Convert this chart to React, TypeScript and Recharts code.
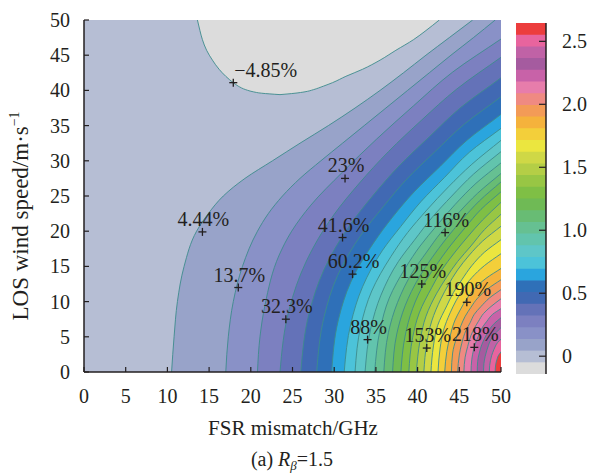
import React from 'react';
import { ComposedChart, Area, XAxis, YAxis, CartesianGrid, ReferenceDot } from 'recharts';

const FONT = '"Liberation Serif", "Times New Roman", Times, serif';
const INK = '#231f20';
const LINE = '#3d8b8c';

const xTicks = [0, 5, 10, 15, 20, 25, 30, 35, 40, 45, 50];
const yTicks = [0, 5, 10, 15, 20, 25, 30, 35, 40, 45, 50];
const barTicks = [0, 0.5, 1, 1.5, 2, 2.5];

// contour level boundaries (%), 30 bands
const levels = [-14.14, -4.85, 4.44, 13.73, 23.02, 32.31, 41.6, 50.89, 60.18, 69.47, 78.76, 88.05, 97.34, 106.63, 115.92, 125.21, 134.5, 143.79, 153.08, 162.37, 171.66, 180.95, 190.24, 199.53, 208.82, 218.11, 227.4, 236.69, 245.98, 255.27, 264.56];

const bandColors = ['#dcdcdc', '#b6bed4', '#98a3c9', '#8991c7', '#7c80c0', '#6472b8', '#4169b3', '#2f70b8', '#2aa5de', '#4cc3d9', '#5ec6c8', '#62c4ad', '#66c092', '#68bc74', '#6fba55', '#7fbf45', '#98c644', '#b4ce46', '#cfd846', '#ebe63f', '#f3cf3a', '#f5b23c', '#f39b57', '#ef8a82', '#e77dab', '#c862a8', '#a55b9f', '#c062a6', '#e8649e', '#ec3d3d'];

// contour lines: [wind speed, FSR mismatch]
const c1 = [[0, 10.5], [5, 10.8], [10, 11.2], [15, 12.0], [20, 13.5], [22.5, 14.9], [25, 16.7], [27.5, 19.3], [30, 22.6], [32.5, 25.9], [35, 29.3], [37.5, 32.5], [40, 35.5], [42.5, 38.3], [45, 41.0], [47.5, 43.8], [50, 46.6]];
const c2 = [[0, 17.0], [5, 17.3], [10, 17.9], [15, 19.0], [20, 20.8], [22.5, 22.1], [25, 23.8], [27.5, 25.9], [30, 28.4], [32.5, 31.0], [35, 33.6], [37.5, 36.2], [40, 38.8], [42.5, 41.4], [45, 44.0], [47.5, 46.7], [50, 49.3]];
const c3 = [[0, 20.8], [5, 21.1], [9.5, 21.7], [16.6, 23.4], [20, 24.9], [23.7, 27.2], [28.4, 31.0], [33.1, 35.1], [37.8, 39.5], [42.6, 44.2], [47.3, 50], [50, 53.3]];
const c4 = [[0, 23.5], [8.9, 24.6], [15.6, 26.6], [22.4, 30.0], [26.8, 33.0], [31.3, 36.5], [35.8, 40.5], [40.2, 44.7], [44.7, 50], [50, 56.3]];
const c5 = [[0, 26.0], [8.4, 27.0], [14.6, 28.8], [20.9, 31.9], [25.0, 34.6], [29.3, 37.8], [33.4, 41.4], [37.6, 45.2], [41.8, 50], [50, 58.6]];
const c6 = [[0, 27.9], [7.9, 28.8], [13.7, 30.4], [19.6, 33.3], [23.5, 35.9], [27.4, 38.7], [31.2, 42.0], [35.2, 45.6], [39.1, 50], [50, 60.6]];
const c7 = [[0, 29.7], [7.4, 30.5], [12.8, 32.0], [18.3, 34.7], [22.0, 37.0], [25.6, 39.6], [29.2, 42.7], [32.9, 45.9], [36.6, 50], [50, 62.4]];
const c8 = [[0, 31.2], [6.9, 32.0], [12.1, 33.4], [17.3, 35.8], [20.7, 38.0], [24.2, 40.4], [27.6, 43.2], [31.2, 46.2], [34.6, 50], [44.9, 61.3], [50, 64.0]];
const c9 = [[0, 32.5], [6.6, 33.2], [11.5, 34.5], [16.4, 36.8], [19.8, 38.8], [23.0, 41.1], [26.3, 43.7], [29.5, 46.5], [32.9, 50], [42.8, 60.5], [50, 65.6]];
const c10 = [[0, 33.7], [6.3, 34.4], [10.9, 35.6], [15.7, 37.7], [18.7, 39.6], [21.9, 41.7], [25.0, 44.1], [28.1, 46.7], [31.3, 50], [40.7, 59.8], [50, 66.9]];
const c11 = [[0, 34.85], [6.0, 35.5], [10.5, 36.6], [14.9, 38.6], [17.9, 40.3], [20.8, 42.3], [23.8, 44.5], [26.8, 47.0], [29.7, 50], [38.7, 59.1], [50, 68.1]];
const c12 = [[0, 35.95], [5.6, 36.5], [9.9, 37.6], [14.2, 39.4], [16.9, 41.0], [19.8, 42.8], [22.6, 44.9], [25.4, 47.2], [28.2, 50], [36.7, 58.4], [50, 69.2]];
const c13 = [[0, 37.0], [5.4, 37.5], [9.4, 38.5], [13.5, 40.2], [16.2, 41.7], [18.9, 43.4], [21.6, 45.3], [24.3, 47.4], [27.0, 50], [35.0, 57.8], [50, 70.3]];
const c14 = [[0, 38.0], [5.1, 38.5], [9.0, 39.4], [12.8, 40.9], [15.3, 42.3], [17.9, 43.9], [20.5, 45.7], [23.1, 47.6], [25.6, 50], [33.3, 57.2], [50, 71.3]];
const c15 = [[0, 38.95], [4.85, 39.4], [8.4, 40.2], [12.0, 41.7], [14.5, 42.9], [16.9, 44.4], [19.2, 46.0], [21.6, 47.8], [24.1, 50], [31.2, 56.6], [50, 72.5]];
const c16 = [[0, 39.85], [4.5, 40.3], [7.9, 41.0], [11.2, 42.3], [13.5, 43.5], [15.7, 44.8], [17.9, 46.4], [20.2, 48.0], [22.4, 50], [29.2, 56.1], [50, 73.8]];
const c17 = [[0, 40.75], [4.1, 41.1], [7.25, 41.7], [10.4, 42.8], [12.4, 43.7], [14.5, 44.8], [16.6, 46.2], [18.6, 47.8], [20.7, 50], [26.9, 56.5], [50, 79.8]];
const c18 = [[0, 41.6], [3.7, 41.9], [6.6, 42.4], [9.4, 43.5], [11.3, 44.3], [13.1, 45.3], [15.1, 46.5], [17.0, 48.0], [18.8, 50], [24.5, 55.9], [50, 81.7]];
const c19 = [[0, 42.45], [3.4, 42.7], [5.9, 43.1], [8.4, 43.9], [10.1, 44.6], [11.7, 45.4], [13.4, 46.5], [15.1, 48.0], [16.8, 50], [21.8, 56.1], [50, 88.5]];
const c20 = [[0, 43.25], [2.9, 43.5], [5.1, 43.9], [7.4, 44.5], [8.8, 45.1], [10.4, 45.9], [11.8, 46.8], [13.3, 48.2], [14.7, 50], [19.2, 55.5], [50, 90.6]];
const c21 = [[0, 44.05], [2.7, 44.2], [4.6, 44.6], [6.6, 45.2], [7.9, 45.7], [9.2, 46.4], [10.5, 47.2], [11.8, 48.4], [13.1, 50], [17.0, 54.8], [50, 91.0]];
const c22 = [[0, 44.8], [2.4, 45.0], [4.1, 45.3], [5.9, 45.8], [7.0, 46.3], [8.2, 46.8], [9.3, 47.6], [10.5, 48.6], [11.7, 50], [15.2, 54.2], [50, 92.0]];
const c23 = [[0, 45.55], [2.1, 45.7], [3.6, 46.0], [5.2, 46.4], [6.2, 46.8], [7.2, 47.3], [8.3, 47.9], [9.3, 48.8], [10.4, 50], [13.5, 53.6], [50, 92.0]];
const c24 = [[0, 46.4], [1.8, 46.5], [3.1, 46.7], [4.6, 47.1], [5.4, 47.4], [6.4, 47.8], [7.2, 48.3], [8.2, 49.0], [9.0, 50], [11.8, 52.9], [50, 90.0]];
const c25 = [[0, 47.15], [1.5, 47.2], [2.7, 47.4], [3.9, 47.7], [4.7, 48.0], [5.4, 48.3], [6.2, 48.7], [6.9, 49.2], [7.7, 50], [10.0, 52.3], [50, 90.0]];
const c26 = [[0, 47.9], [1.2, 47.95], [2.2, 48.1], [3.1, 48.3], [3.8, 48.5], [4.4, 48.7], [5.0, 49.0], [5.6, 49.4], [6.3, 50], [8.2, 51.7], [50, 88.0]];
const c27 = [[0, 48.6], [0.95, 48.64], [1.6, 48.73], [2.3, 48.87], [2.75, 49.0], [3.2, 49.15], [3.7, 49.34], [4.2, 49.6], [4.65, 50], [6.1, 51.1], [50, 85.0]];
const c28 = [[0, 49.3], [0.57, 49.32], [1.0, 49.36], [1.43, 49.43], [1.7, 49.5], [2.0, 49.57], [2.3, 49.67], [2.55, 49.81], [2.85, 50], [3.7, 50.57], [50, 80.0]];

// the -4.85% closed region at the top (right and left boundary)
const blobRight = [[39.4, 23.5], [39.6, 25.3], [39.8, 26.5], [40.1, 27.5], [40.6, 28.7], [41.1, 29.8], [42.0, 31.4], [43.0, 33.4], [44.3, 35.5], [45.7, 37.4], [47.2, 39.5], [48.5, 41.0], [50, 42.6]];
const blobLeft = [[39.4, 23.5], [39.6, 21.3], [39.8, 20.3], [40.1, 19.4], [40.6, 18.5], [41.1, 17.9], [42.0, 17.0], [43.0, 16.2], [44.3, 15.4], [45.7, 14.7], [47.2, 14.2], [48.5, 13.9], [50, 13.6]];

// contour labels
const labelX = [17.9, 14.2, 18.5, 31.3, 24.2, 31.0, 32.2, 34.0, 43.3, 40.5, 41.1, 45.9, 46.8];
const labelY = [41.1, 19.9, 12.0, 27.5, 7.5, 19.1, 13.9, 4.6, 19.8, 12.5, 3.4, 9.9, 3.5];
const labelText = ['−4.85%', '4.44%', '13.7%', '23%', '32.3%', '41.6%', '60.2%', '88%', '116%', '125%', '153%', '190%', '218%'];

const contours = [c1, c2, c3, c4, c5, c6, c7, c8, c9, c10, c11, c12, c13, c14, c15, c16, c17, c18, c19, c20, c21, c22, c23, c24, c25, c26, c27, c28];

const chartRows = (() => {
  const rows: any[] = [];
  contours.forEach((pts, i) => pts.forEach(([y, x]) => rows.push({ y, ['c' + (i + 1)]: x })));
  blobRight.forEach(([y, x]) => rows.push({ y, br: x }));
  blobLeft.forEach(([y, x]) => rows.push({ y, bls: x }));
  // fill under the left boundary starts a touch lower so no seam shows at the blob's bottom
  rows.push({ y: blobLeft[0][0] - 0.5, blf: blobLeft[0][1] });
  blobLeft.forEach(([y, x]) => rows.push({ y, blf: x }));
  rows.sort((a, b) => a.y - b.y);
  return rows;
})();

const barRows = [0, 1].map((x) => {
  const row: any = { x };
  bandColors.forEach((_, j) => { row['b' + j] = levels[j + 1] / 100; });
  return row;
});

const XTick = (p: any) => (
  <g>
    <line x1={p.x} x2={p.x} y1={p.y} y2={p.y - 5} stroke={INK} strokeWidth={1.2} />
    <text x={p.x} y={p.y + 31} textAnchor="middle" fontFamily={FONT} fontSize={20} fill={INK}>{p.payload.value}</text>
  </g>
);

const YTick = (p: any) => (
  <g>
    <line x1={p.x} x2={p.x + 5} y1={p.y} y2={p.y} stroke={INK} strokeWidth={1.2} />
    <text x={p.x - 14} y={p.y + 7} textAnchor="end" fontFamily={FONT} fontSize={20} fill={INK}>{p.payload.value}</text>
  </g>
);

const BarTick = (p: any) => (
  <g>
    <line x1={p.x} x2={p.x - 7} y1={p.y} y2={p.y} stroke={INK} strokeWidth={1.2} />
    <text x={p.x + 16} y={p.y + 7} textAnchor="start" fontFamily={FONT} fontSize={20} fill={INK}>{p.payload.value === 0 ? '0' : Number(p.payload.value).toFixed(1)}</text>
  </g>
);

const makeMarker = (text: string) => (p: any) => {
  const neg = text.startsWith('−');
  return (
    <g>
      <line x1={p.cx - 4} x2={p.cx + 4} y1={p.cy} y2={p.cy} stroke={INK} strokeWidth={1.3} />
      <line x1={p.cx} x2={p.cx} y1={p.cy - 4} y2={p.cy + 4} stroke={INK} strokeWidth={1.3} />
      <text x={p.cx + 1} y={p.cy - 6} textAnchor={neg ? 'start' : 'middle'} fontFamily={FONT} fontSize={20} fill={INK}>{text}</text>
    </g>
  );
};

const frame = { stroke: INK, strokeWidth: 1.5 };

export default function App() {
  return (
    <div style={{ position: 'absolute', left: 0, top: 0, width: 591, height: 473, background: '#fff', fontFamily: FONT, color: INK }}>
      <div style={{ position: 'absolute', left: 0, top: 0 }}>
        <ComposedChart width={591} height={473} layout="vertical" data={chartRows} margin={{ top: 20, right: 90, bottom: 71, left: 24 }}>
          <CartesianGrid horizontal={false} vertical={false} fill={bandColors[29]} fillOpacity={1} />
          {contours.map((_, i) => {
            const k = 28 - i;
            return (
              <Area key={k} dataKey={'c' + k} type="monotone" fill={bandColors[k]} fillOpacity={1} stroke={LINE} strokeWidth={0.9} connectNulls isAnimationActive={false} dot={false} activeDot={false} />
            );
          })}
          <Area dataKey="br" type="monotone" fill={bandColors[0]} fillOpacity={1} stroke={LINE} strokeWidth={0.9} connectNulls isAnimationActive={false} dot={false} activeDot={false} />
          <Area dataKey="blf" type="monotone" fill={bandColors[1]} fillOpacity={1} stroke="none" connectNulls isAnimationActive={false} dot={false} activeDot={false} />
          <Area dataKey="bls" type="monotone" fill="none" stroke={LINE} strokeWidth={0.9} connectNulls isAnimationActive={false} dot={false} activeDot={false} />
          {labelText.map((t, i) => (
            <ReferenceDot key={t} x={labelX[i]} y={labelY[i]} r={4} shape={makeMarker(t)} ifOverflow="visible" />
          ))}
          <XAxis type="number" domain={[0, 50]} ticks={xTicks} allowDataOverflow interval={0} height={30} tickSize={0} tickMargin={0} tickLine={false} axisLine={frame} tick={XTick} />
          <YAxis type="number" dataKey="y" domain={[0, 50]} ticks={yTicks} reversed allowDataOverflow interval={0} width={60} tickSize={0} tickMargin={0} tickLine={false} axisLine={frame} tick={YTick} />
          <XAxis xAxisId="top" orientation="top" type="number" domain={[0, 50]} height={0} tick={false} tickLine={false} axisLine={frame} />
          <YAxis yAxisId="right" orientation="right" type="number" domain={[0, 50]} width={0} tick={false} tickLine={false} axisLine={frame} />
        </ComposedChart>
      </div>
      <div style={{ position: 'absolute', left: 0, top: 0 }}>
        <ComposedChart width={591} height={473} data={barRows} margin={{ top: 23, right: 0, bottom: 99, left: 516 }}>
          {bandColors.map((c, j) => {
            const idx = 29 - j;
            return (
              <Area key={idx} dataKey={'b' + idx} type="linear" baseValue="dataMin" fill={bandColors[idx]} fillOpacity={1} stroke="none" isAnimationActive={false} dot={false} activeDot={false} />
            );
          })}
          <XAxis dataKey="x" type="number" domain={[0, 1]} hide />
          <YAxis orientation="right" type="number" domain={[levels[0] / 100, levels[30] / 100]} ticks={barTicks} allowDataOverflow interval={0} width={45} tickSize={0} tickMargin={0} axisLine={frame} tickLine={false} tick={BarTick} />
          <YAxis yAxisId="left" orientation="left" type="number" domain={[0, 1]} width={0} tick={false} tickLine={false} axisLine={frame} />
          <XAxis xAxisId="top" orientation="top" type="number" domain={[0, 1]} height={0} tick={false} tickLine={false} axisLine={frame} />
          <XAxis xAxisId="bottom" orientation="bottom" type="number" domain={[0, 1]} height={0} tick={false} tickLine={false} axisLine={frame} />
        </ComposedChart>
      </div>
      <div style={{ position: 'absolute', left: 20, top: 216, transform: 'translate(-50%, -50%) rotate(-90deg)', fontSize: 23, whiteSpace: 'nowrap', lineHeight: 1 }}>
        LOS wind speed/m·s<sup style={{ fontSize: '0.6em' }}>−1</sup>
      </div>
      <div style={{ position: 'absolute', left: 293, top: 428, transform: 'translate(-50%, -50%)', fontSize: 21, whiteSpace: 'nowrap', lineHeight: 1 }}>
        FSR mismatch/GHz
      </div>
      <div style={{ position: 'absolute', left: 292, top: 459, transform: 'translate(-50%, -50%)', fontSize: 20, whiteSpace: 'nowrap', lineHeight: 1 }}>
        (a) <i>R</i><span style={{ fontSize: '0.65em', position: 'relative', top: 4 }}><i>β</i></span>=1.5
      </div>
    </div>
  );
}
